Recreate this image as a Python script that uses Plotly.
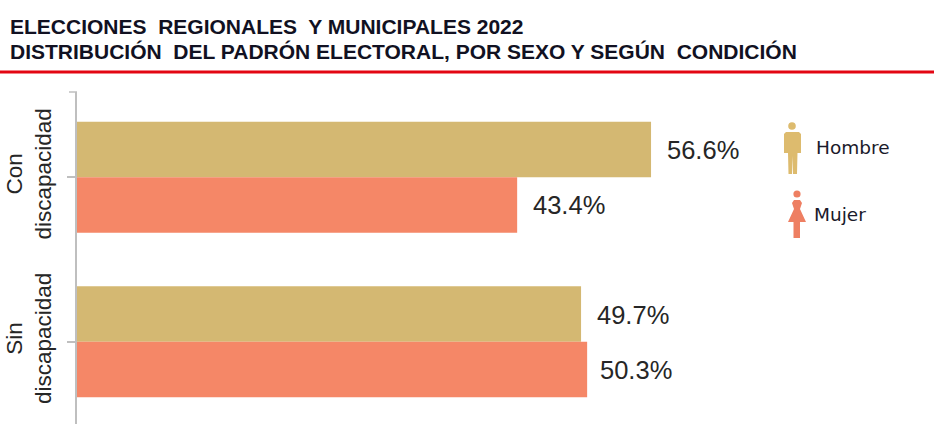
import plotly.graph_objects as go

W, H = 934, 447
L, R, T, B = 77, 0, 95, 23

categories = ["Con<br>discapacidad", "Sin<br>discapacidad"]
series_names = ["Hombre", "Mujer"]
hombre = [56.6, 49.7]
mujer = [43.4, 50.3]
colors = ["#D4B872", "#F58767"]
icon_colors = ["#DDBB6E", "#EE7F62"]
title_lines = ["ELECCIONES  REGIONALES  Y MUNICIPALES 2022",
               "DISTRIBUCIÓN  DEL PADRÓN ELECTORAL, POR SEXO Y SEGÚN  CONDICIÓN"]
label_shifts = [[14, 14], [14, 11]]

font_lbl = "Liberation Sans, Arial, sans-serif"
plot_w, plot_h = W - L - R, H - T - B


def qx(x):
    return (x - L) / plot_w


def qy(y):
    return 1 - (y - T) / plot_h


def qpoly(points):
    return "M" + " L".join(f"{qx(x):.5f},{qy(y):.5f}" for x, y in points) + " Z"


def head(cx, cy, r, col):
    return dict(type="circle", xref="paper", yref="paper", x0=qx(cx - r), x1=qx(cx + r),
                y0=qy(cy + r), y1=qy(cy - r), fillcolor=col, line_width=0, layer="above")


def path(points, col):
    return dict(type="path", xref="paper", yref="paper", path=qpoly(points),
                fillcolor=col, line_width=0, layer="above")


fig = go.Figure()
for name, vals, col in zip(series_names, [hombre, mujer], colors):
    fig.add_bar(y=categories, x=vals, name=name, orientation="h",
                marker=dict(color=col, line_width=0), showlegend=False)

annotations = []
for s, vals in enumerate([hombre, mujer]):
    for c, v in enumerate(vals):
        annotations.append(dict(x=v, y=categories[c], xref="x", yref="y", showarrow=False,
                                text=f"{v:.1f}%", xanchor="left", xshift=label_shifts[s][c],
                                yshift=(27.5 if s == 0 else -27.5) - 0.5,
                                font=dict(family=font_lbl, size=25.5, color="#262626")))

man = [(786, 132), (799, 132), (801, 134), (801, 153), (797.5, 153), (797, 174), (793, 174), (792.5, 156),
       (792, 174), (788.5, 174), (788, 153), (784, 153), (784, 134)]
woman = [(794, 200), (800, 200), (802, 203), (800, 209), (806, 222), (800, 222), (800, 238), (793.5, 238),
         (793.5, 222), (788, 222), (794, 209), (792, 203)]

shapes = [
    dict(type="line", xref="paper", yref="paper", x0=qx(0), x1=qx(W), y0=qy(72), y1=qy(72),
         line=dict(color="#E30613", width=3), layer="above"),
    dict(type="line", xref="paper", yref="paper", x0=qx(69), x1=qx(77), y0=qy(92), y1=qy(92),
         line=dict(color="#BFBFBF", width=1.5), layer="above"),
    dict(type="line", xref="paper", yref="paper", x0=qx(76), x1=qx(76), y0=qy(92), y1=qy(96),
         line=dict(color="#BFBFBF", width=2), layer="above"),
    head(792, 126, 3.8, icon_colors[0]), path(man, icon_colors[0]),
    head(797, 194, 3.6, icon_colors[1]), path(woman, icon_colors[1]),
]

annotations += [
    dict(x=qx(814), y=qy(147), xref="paper", yref="paper", showarrow=False, text=series_names[0],
         xanchor="left", yanchor="middle", font=dict(family="DejaVu Sans", size=18.5, color="#1a1a2a")),
    dict(x=qx(812), y=qy(214), xref="paper", yref="paper", showarrow=False, text=series_names[1],
         xanchor="left", yanchor="middle", font=dict(family="DejaVu Sans", size=18.5, color="#1a1a2a")),
    dict(x=qx(8), y=qy(26), xref="paper", yref="paper", showarrow=False, text=f"<b>{title_lines[0]}</b>",
         xanchor="left", yanchor="middle",
         font=dict(family="Liberation Sans", size=21, color="#111122")),
    dict(x=qx(8), y=qy(51), xref="paper", yref="paper", showarrow=False, text=f"<b>{title_lines[1]}</b>",
         xanchor="left", yanchor="middle",
         font=dict(family="Liberation Sans", size=21, color="#111122")),
]

fig.update_layout(
    width=W, height=H, autosize=False,
    margin=dict(l=L, r=R, t=T, b=B),
    paper_bgcolor="white", plot_bgcolor="white",
    barmode="group", bargap=0.325, bargroupgap=0,
    shapes=shapes, annotations=annotations,
    xaxis=dict(range=[0, 84.5], visible=False),
    yaxis=dict(type="category", categoryorder="array", categoryarray=categories,
               range=[1.5, -0.5], showline=True, linecolor="#BFBFBF", linewidth=2,
               ticks="outside", ticklen=8, tickcolor="#BFBFBF", tickwidth=1.5,
               tickangle=-90, ticklabelstandoff=7, showgrid=False, zeroline=False,
               tickfont=dict(family=font_lbl, size=22.5, color="#262626")),
)
fig.write_html("out.html", config=dict(displayModeBar=False),
               post_script="document.body.style.margin='0';document.documentElement.style.overflow='hidden';")
